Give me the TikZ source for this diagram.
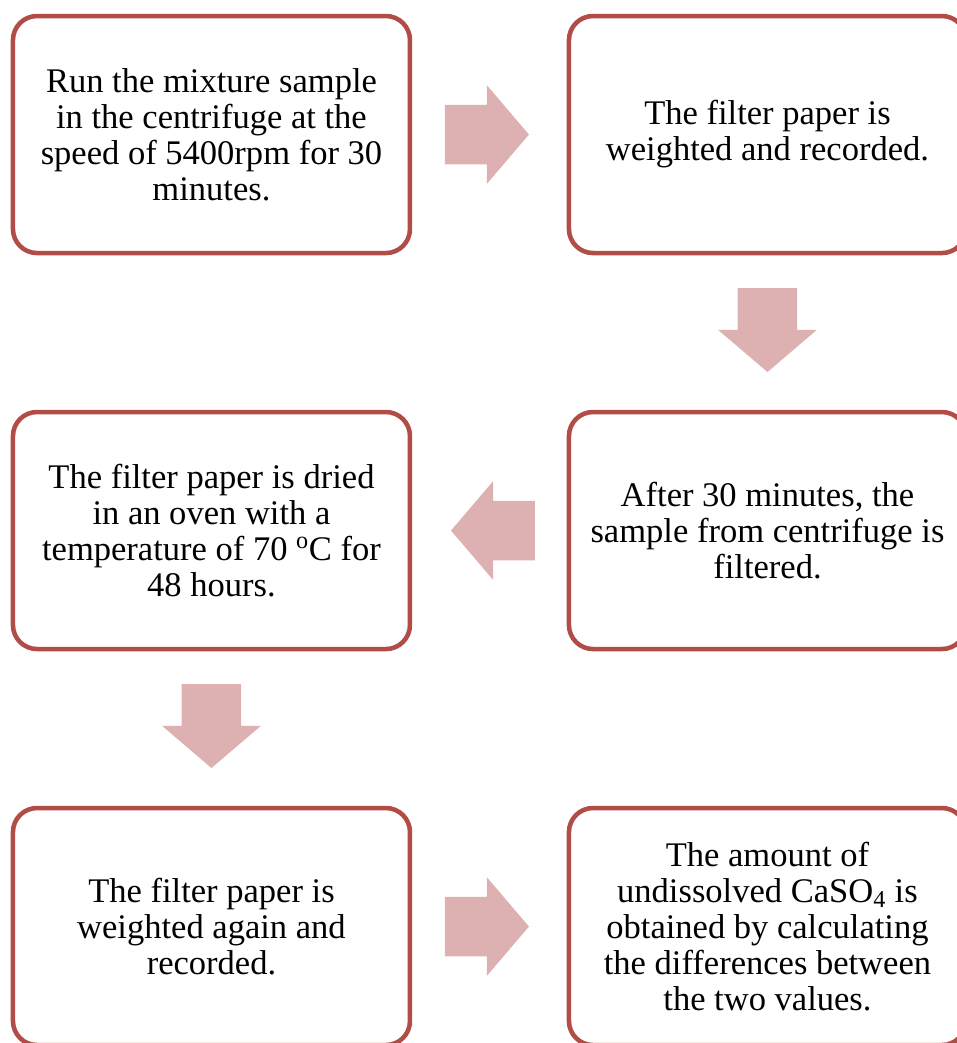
\documentclass[tikz,border=0pt]{standalone}
\usepackage{fontspec}
\setmainfont{Liberation Serif}
\usetikzlibrary{
    shapes.arrows, % For block arrows
    calc,          % For coordinate calculations
    positioning    % For box placement
}
\definecolor{boxred}{RGB}{178,76,71}
\definecolor{arrowpink}{RGB}{221,177,177}

\begin{document}
\begin{tikzpicture}[
    node distance=119.25pt and 119.25pt,
    stepbox/.style={draw=boxred, line width=3.4pt, rounded corners=18pt, fill=white,
        minimum width=297.75pt, minimum height=177.75pt, inner sep=0pt, outer sep=0pt,
        align=center, font=\fontsize{25.9pt}{27pt}\selectfont},
    blockarrow/.style={single arrow, fill=arrowpink, draw=none, inner xsep=0pt,
        inner ysep=22.125pt, outer sep=0pt, minimum height=63pt,
        single arrow head extend=14.625pt, single arrow tip angle=99, anchor=tail}
]

    % Frame of the picture
    \clip (0,0) rectangle (717.75pt,-782.25pt);

    % Boxes
    \node[stepbox] (run) at (158.6pt,-100.9pt)
        {Run the mixture sample\\in the centrifuge at the\\speed of 5400rpm for 30\\minutes.};
    \node[stepbox, right=of run] (weigh) {The filter paper is\\weighted and recorded.};
    \node[stepbox, below=of weigh] (filter)
        {After 30 minutes, the\\sample from centrifuge is\\filtered.};
    \node[stepbox, below=of run] (dry)
        {The filter paper is dried\\in an oven with a\\temperature of 70 \textsuperscript{o}C for\\48 hours.};
    \node[stepbox, below=of dry] (reweigh) {The filter paper is\\weighted again and\\recorded.};
    \node[stepbox, below=of filter] (result)
        {The amount of\\undissolved CaSO\textsubscript{4} is\\obtained by calculating\\the differences between\\the two values.};

    % Block arrows between the boxes
    \node[blockarrow] (a1) at ($(run.east)+(26.25pt,0)$) {};
    \node[blockarrow, rotate=-90] (a2) at ($(weigh.south)+(0,-26.25pt)$) {};
    \node[blockarrow, rotate=180] (a3) at ($(filter.west)+(-25.5pt,0)$) {};
    \node[blockarrow, rotate=-90] (a4) at ($(dry.south)+(0,-26.25pt)$) {};
    \node[blockarrow] (a5) at ($(reweigh.east)+(26.25pt,0)$) {};

\end{tikzpicture}
\end{document}
